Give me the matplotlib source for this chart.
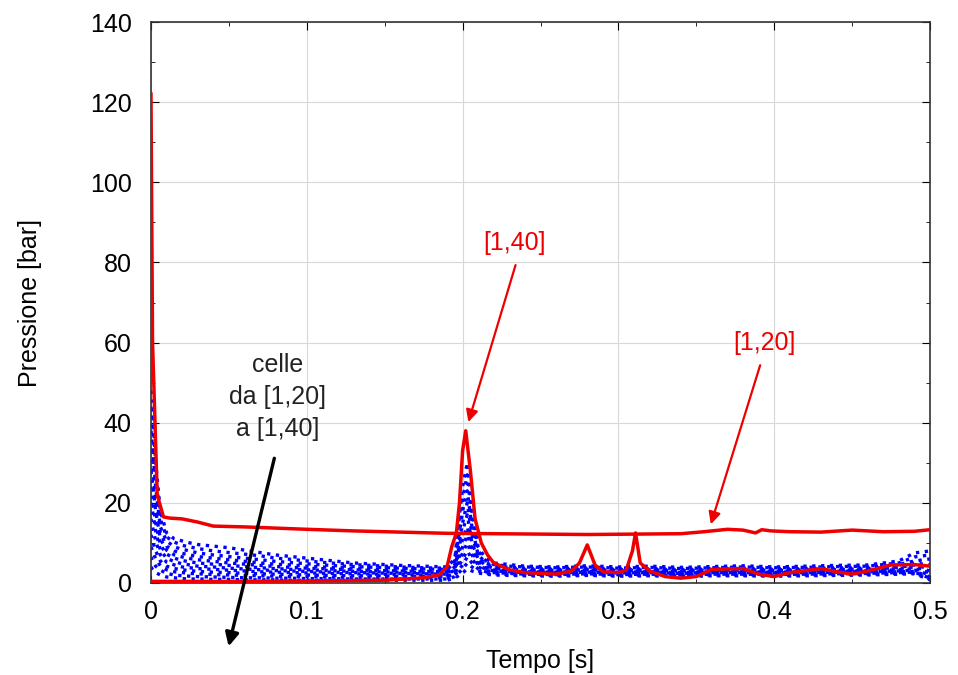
import matplotlib
matplotlib.use("Agg")
import matplotlib.pyplot as plt
from matplotlib.ticker import MultipleLocator

plt.rcParams['font.family'] = ['Liberation Sans', 'DejaVu Sans']

# ---- data ----
t_red20 = [0, 0.001, 0.004, 0.008, 0.012, 0.02, 0.03, 0.04, 0.06, 0.08, 0.10, 0.13, 0.16, 0.19,
           0.22, 0.25, 0.28, 0.31, 0.34, 0.355, 0.37, 0.38, 0.388, 0.392, 0.398, 0.41, 0.43,
           0.45, 0.47, 0.49, 0.5]
p_red20 = [122, 60, 22, 16.5, 16.2, 16.0, 15.2, 14.2, 14.0, 13.7, 13.4, 13.0, 12.7, 12.4,
           12.3, 12.2, 12.1, 12.2, 12.3, 12.8, 13.4, 13.2, 12.5, 13.3, 13.0, 12.8, 12.7,
           13.2, 12.8, 12.9, 13.3]

t_red40 = [0, 0.05, 0.10, 0.15, 0.175, 0.185, 0.19, 0.193, 0.196, 0.198, 0.2, 0.202, 0.205,
           0.208, 0.212, 0.216, 0.22, 0.23, 0.24, 0.26, 0.27, 0.275, 0.28, 0.285, 0.29, 0.3,
           0.305, 0.309, 0.311, 0.314, 0.32, 0.33, 0.34, 0.35, 0.36, 0.38, 0.39, 0.40, 0.41,
           0.43, 0.44, 0.45, 0.46, 0.475, 0.49, 0.5]
p_red40 = [0.4, 0.4, 0.5, 0.7, 1.3, 2.0, 4.0, 9.0, 12.5, 20.0, 33.0, 38.0, 28.0,
           16.0, 10.0, 7.0, 5.0, 3.3, 2.6, 2.2, 3.0, 5.0, 9.5, 4.5, 2.8, 2.6,
           3.2, 8.0, 12.5, 5.0, 3.0, 1.6, 1.2, 1.6, 3.4, 3.6, 2.2, 1.6, 2.6,
           3.6, 2.8, 2.2, 3.0, 4.5, 4.6, 4.2]

t_blue = [0, 0.001, 0.003, 0.006, 0.01, 0.015, 0.02, 0.025, 0.03, 0.04, 0.05, 0.06, 0.07, 0.08,
          0.09, 0.10, 0.115, 0.13, 0.145, 0.16, 0.175, 0.19, 0.195, 0.2, 0.203, 0.206, 0.21,
          0.215, 0.22, 0.23, 0.24, 0.26, 0.28, 0.3, 0.32, 0.34, 0.36, 0.38, 0.4, 0.42, 0.44,
          0.46, 0.48, 0.49, 0.5]
blue_cells = [
    [48, 44, 30, 18, 12.5, 11, 10.5, 10, 9.6, 9.2, 8.8, 8.2, 7.6, 7.0, 6.6, 6.2, 5.6, 5.0, 4.7, 4.4, 4.2, 4.0, 6, 24, 30, 18, 9, 6, 5, 4.6, 4.2, 4.0, 4.3, 4.0, 4.2, 3.9, 4.1, 4.3, 4.0, 4.2, 4.4, 4.5, 5.5, 7.5, 8.0],
    [44, 40, 27, 16, 11.5, 10.2, 9.4, 9.0, 8.6, 8.0, 7.6, 7.2, 6.8, 6.2, 5.9, 5.5, 5.0, 4.6, 4.3, 4.0, 3.8, 3.7, 5.5, 21, 27, 16, 8, 5.5, 4.6, 4.2, 4.0, 3.8, 4.0, 3.7, 3.9, 3.6, 3.8, 4.0, 3.8, 3.9, 4.1, 4.2, 5.0, 6.5, 7.0],
    [38, 34, 24, 14, 10.5, 9.0, 8.4, 8.0, 7.5, 7.0, 6.6, 6.2, 5.8, 5.4, 5.1, 4.8, 4.4, 4.1, 3.9, 3.7, 3.5, 3.4, 5.0, 18, 23, 14, 7, 5, 4.3, 3.9, 3.7, 3.5, 3.8, 3.5, 3.6, 3.4, 3.6, 3.7, 3.5, 3.6, 3.8, 3.9, 4.6, 5.5, 6.0],
    [33, 29, 21, 12.5, 9.2, 8.0, 7.4, 7.0, 6.6, 6.2, 5.8, 5.4, 5.0, 4.7, 4.5, 4.2, 3.9, 3.7, 3.5, 3.3, 3.2, 3.1, 4.5, 15, 20, 12, 6.5, 4.6, 4.0, 3.6, 3.4, 3.3, 3.5, 3.3, 3.4, 3.2, 3.4, 3.4, 3.3, 3.4, 3.5, 3.6, 4.2, 5.0, 4.5],
    [28, 25, 18, 11, 8.2, 7.0, 6.5, 6.1, 5.8, 5.4, 5.0, 4.7, 4.4, 4.1, 3.9, 3.7, 3.5, 3.3, 3.1, 3.0, 2.9, 2.8, 4.0, 13, 17, 10, 6, 4.3, 3.7, 3.4, 3.2, 3.1, 3.3, 3.1, 3.2, 3.0, 3.2, 3.2, 3.1, 3.2, 3.3, 3.4, 3.9, 4.5, 3.5],
    [24, 21, 15, 9.5, 7.2, 6.2, 5.6, 5.3, 5.0, 4.7, 4.4, 4.1, 3.8, 3.6, 3.4, 3.3, 3.1, 2.9, 2.8, 2.7, 2.6, 2.5, 3.6, 11, 14, 9, 5.4, 4.0, 3.5, 3.2, 3.0, 2.9, 3.1, 2.9, 3.0, 2.8, 3.0, 3.0, 2.9, 3.0, 3.1, 3.2, 3.6, 4.0, 3.0],
    [20, 18, 13, 8.2, 6.2, 5.3, 4.8, 4.5, 4.2, 4.0, 3.7, 3.5, 3.3, 3.1, 3.0, 2.9, 2.7, 2.6, 2.5, 2.4, 2.3, 2.2, 3.2, 9, 12, 8, 5, 3.7, 3.2, 3.0, 2.8, 2.7, 2.9, 2.7, 2.8, 2.6, 2.8, 2.8, 2.7, 2.8, 2.9, 3.0, 3.3, 3.6, 2.5],
    [16, 14, 10.5, 7, 5.2, 4.5, 4.0, 3.8, 3.6, 3.4, 3.2, 3.0, 2.8, 2.7, 2.6, 2.5, 2.4, 2.3, 2.2, 2.1, 2.0, 2.0, 2.8, 7.5, 10, 7, 4.5, 3.4, 3.0, 2.8, 2.6, 2.5, 2.7, 2.5, 2.6, 2.4, 2.6, 2.6, 2.5, 2.6, 2.7, 2.8, 3.0, 3.2, 2.0],
    [12, 10.5, 8, 5.5, 4.2, 3.6, 3.3, 3.1, 2.9, 2.7, 2.6, 2.4, 2.3, 2.2, 2.1, 2.0, 1.9, 1.8, 1.8, 1.7, 1.7, 1.6, 2.4, 6, 8, 6, 4, 3.1, 2.8, 2.6, 2.4, 2.3, 2.5, 2.3, 2.4, 2.2, 2.4, 2.4, 2.3, 2.4, 2.5, 2.6, 2.8, 2.9, 1.5],
    [9, 8, 6, 4.3, 3.3, 2.8, 2.6, 2.4, 2.3, 2.1, 2.0, 1.9, 1.8, 1.7, 1.6, 1.6, 1.5, 1.4, 1.4, 1.3, 1.3, 1.3, 2.0, 4.5, 6.5, 5, 3.5, 2.8, 2.6, 2.4, 2.2, 2.1, 2.3, 2.1, 2.2, 2.0, 2.2, 2.2, 2.1, 2.2, 2.3, 2.4, 2.6, 2.7, 1.2],
    [6.5, 5.5, 4.2, 3.2, 2.4, 2.0, 1.8, 1.7, 1.6, 1.5, 1.4, 1.3, 1.3, 1.2, 1.2, 1.1, 1.1, 1.0, 1.0, 1.0, 1.0, 1.0, 1.6, 3.5, 5, 4, 3, 2.5, 2.3, 2.1, 2.0, 1.9, 2.1, 1.9, 2.0, 1.8, 2.0, 2.0, 1.9, 2.0, 2.1, 2.2, 2.4, 2.5, 1.0],
    [4, 3.4, 2.6, 2.0, 1.5, 1.3, 1.1, 1.0, 1.0, 0.9, 0.9, 0.8, 0.8, 0.8, 0.7, 0.7, 0.7, 0.7, 0.7, 0.7, 0.7, 0.7, 1.2, 2.5, 3.5, 3, 2.5, 2.2, 2.0, 1.9, 1.8, 1.7, 1.9, 1.7, 1.8, 1.6, 1.8, 1.8, 1.7, 1.8, 1.9, 2.0, 2.2, 2.3, 0.8],
]

x_ticks = [0, 0.1, 0.2, 0.3, 0.4, 0.5]
x_ticklabels = ['0', '0.1', '0.2', '0.3', '0.4', '0.5']
y_ticks = [0, 20, 40, 60, 80, 100, 120, 140]

# ---- figure ----
fig = plt.figure(figsize=(9.58, 6.75), dpi=100)
ax = fig.add_axes([0.1576, 0.1363, 0.8132, 0.8311])

for vals in blue_cells:
    ax.plot(t_blue, vals, color='#0000ff', linestyle=':', linewidth=2.4, zorder=2)

ax.plot(t_red40, p_red40, color='#ee0000', linewidth=2.5, zorder=3)
ax.plot(t_red20, p_red20, color='#ee0000', linewidth=2.5, zorder=3)

ax.set_xlim(0, 0.5)
ax.set_ylim(0, 140)
ax.set_xticks(x_ticks)
ax.set_xticklabels(x_ticklabels)
ax.set_yticks(y_ticks)
ax.xaxis.set_minor_locator(MultipleLocator(0.05))
ax.yaxis.set_minor_locator(MultipleLocator(10))
ax.tick_params(which='both', direction='in', top=True, right=True, labelsize=18)
ax.tick_params(axis='y', pad=14)
ax.tick_params(axis='x', pad=12)
ax.tick_params(which='major', length=6)
ax.tick_params(which='minor', length=3)
ax.grid(True, which='major', color='#d8d8d8', linewidth=0.8)
ax.set_axisbelow(True)
for s in ax.spines.values():
    s.set_color('#333333')
    s.set_linewidth(1.2)

ax.set_xlabel('Tempo [s]', fontsize=18, labelpad=18)
ax.set_ylabel('Pressione [bar]', fontsize=18, labelpad=34)

ax.text(0.0815, 46.4, 'celle\nda [1,20]\na [1,40]', ha='center', va='center',
        fontsize=18, color='#222222', linespacing=1.4, zorder=5)
ax.annotate('', xy=(0.0494, -16.5), xytext=(0.0796, 31.8),
            arrowprops=dict(arrowstyle='-|>', color='black', lw=2.4, mutation_scale=20),
            annotation_clip=False, zorder=5)

ax.text(0.2336, 84.8, '[1,40]', ha='center', va='center', fontsize=18, color='#ee0000', zorder=5)
ax.annotate('', xy=(0.2032, 39.5), xytext=(0.2345, 80.0),
            arrowprops=dict(arrowstyle='-|>', color='#ee0000', lw=1.6, mutation_scale=18),
            zorder=5)

ax.text(0.394, 59.9, '[1,20]', ha='center', va='center', fontsize=18, color='#ee0000', zorder=5)
ax.annotate('', xy=(0.3588, 14.0), xytext=(0.3915, 55.0),
            arrowprops=dict(arrowstyle='-|>', color='#ee0000', lw=1.6, mutation_scale=18),
            zorder=5)

fig.savefig('out.png', dpi=100)
